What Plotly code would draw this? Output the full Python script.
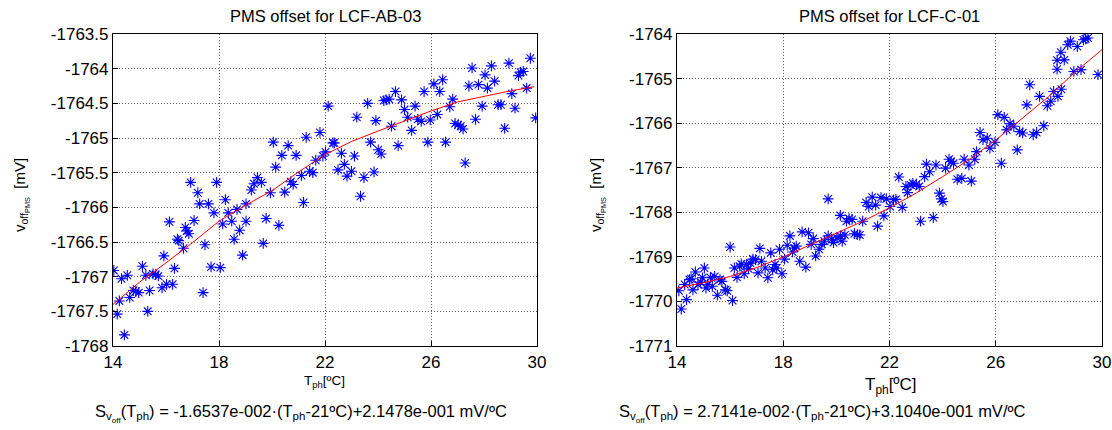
import plotly.graph_objects as go
from plotly.subplots import make_subplots

# --- LCF-AB-03 measurements (T_ph in degC, offset in mV) ---
ab_temp = [
    16.93, 17.20, 17.27, 17.60, 17.81, 17.91, 18.24, 18.35, 18.68, 19.02,
    19.22, 19.32, 19.45, 19.60, 19.94, 20.05, 20.14, 20.37, 20.48, 20.61,
    20.71, 20.80, 20.91, 21.11, 21.19, 21.29, 21.42, 21.54, 21.65, 21.81,
    21.92, 22.02, 22.12, 22.30, 22.35, 22.49, 22.62, 22.73, 22.83, 23.00,
    23.11, 23.20, 23.34, 23.47, 23.61, 23.72, 23.85, 23.92, 24.01, 24.12,
    24.22, 24.31, 24.42, 24.51, 24.66, 24.76, 24.89, 25.00, 25.12, 25.27,
    25.40, 25.50, 25.63, 25.74, 25.88, 25.97, 26.11, 26.24, 26.33, 26.44,
    26.55, 26.71, 26.82, 26.91, 27.02, 27.12, 27.21, 27.29, 27.43, 27.55,
    27.68, 27.79, 27.93, 28.04, 28.13, 28.28, 28.40, 28.53, 28.64, 28.78,
    28.94, 29.05, 29.17, 29.30, 29.38, 29.48, 29.61, 29.75, 29.95,
    14.03, 14.24, 14.32, 14.16, 14.43, 14.54, 14.63, 14.77, 14.86, 14.97,
    15.11, 15.24, 15.38, 15.51, 15.61, 15.71, 15.31, 15.92, 15.85, 16.02,
    16.13, 16.25, 16.32, 16.43, 16.48, 16.66, 16.73, 16.79, 16.86, 17.06,
    17.47, 17.40, 17.70, 18.05, 18.14, 18.48, 18.57, 18.78, 18.89, 19.02,
    19.67, 19.78, 20.26,
]
ab_offset = [
    -1765.64, -1765.79, -1765.95, -1765.95, -1766.08, -1765.64, -1765.89, -1766.08, -1766.03, -1765.95,
    -1765.75, -1765.66, -1765.57, -1765.64, -1765.79, -1765.06, -1765.42, -1765.25, -1765.78, -1765.11,
    -1765.63, -1765.67, -1765.25, -1765.54, -1765.93, -1764.99, -1765.48, -1765.50, -1765.32, -1764.92,
    -1765.26, -1765.20, -1764.54, -1765.07, -1765.07, -1765.46, -1765.22, -1765.38, -1765.55, -1765.48,
    -1765.26, -1764.70, -1765.84, -1765.57, -1764.50, -1765.06, -1765.49, -1764.75, -1765.17, -1765.23,
    -1764.46, -1764.45, -1764.44, -1764.83, -1764.33, -1765.11, -1764.45, -1764.59, -1764.70, -1764.89,
    -1764.54, -1764.73, -1764.76, -1764.33, -1765.06, -1764.74, -1764.22, -1764.66, -1764.33, -1764.16,
    -1765.06, -1764.55, -1764.44, -1764.79, -1764.81, -1764.83, -1764.87, -1765.36, -1764.25, -1763.99,
    -1764.73, -1764.23, -1764.54, -1764.09, -1764.28, -1763.96, -1764.18, -1764.52, -1764.52, -1764.86,
    -1763.92, -1764.36, -1764.57, -1764.10, -1764.05, -1764.04, -1764.28, -1763.85, -1764.71,
    -1766.91, -1767.35, -1767.03, -1767.54, -1767.84, -1766.98, -1767.30, -1767.20, -1767.21, -1767.23,
    -1766.85, -1766.98, -1767.20, -1766.96, -1766.97, -1766.99, -1767.50, -1766.70, -1767.16, -1767.11,
    -1766.21, -1767.11, -1766.88, -1766.46, -1766.48, -1766.59, -1766.29, -1766.34, -1766.38, -1766.19,
    -1766.54, -1767.23, -1766.86, -1766.87, -1766.24, -1766.20, -1766.46, -1766.33, -1766.69, -1766.20,
    -1766.52, -1766.16, -1766.26,
]
ab_fit_temp = [14, 15, 16, 17, 18, 19, 20, 21, 22, 23, 24, 25, 26, 27, 28, 29, 29.9]
ab_fit = [
    -1767.40, -1767.08, -1766.80, -1766.51, -1766.20, -1765.97, -1765.76, -1765.49, -1765.24,
    -1765.05, -1764.90, -1764.75, -1764.61, -1764.48, -1764.40, -1764.32, -1764.26,
]

# --- LCF-C-01 measurements ---
c_temp = [
    19.69, 21.12, 21.22, 21.35, 21.48, 21.68, 21.88, 22.02, 22.15, 22.24,
    22.35, 22.48, 22.62, 22.68, 22.81, 22.88, 23.01, 23.12, 23.32, 23.39,
    23.51, 23.75, 23.88, 23.95, 24.01, 24.11, 24.24, 24.32, 24.41, 24.55,
    24.72, 24.81, 24.99, 25.08, 25.21, 25.28, 25.41, 25.52, 25.68, 25.78,
    25.97, 26.08, 26.21, 26.32, 26.41, 26.54, 26.68, 26.81, 26.90, 27.01,
    27.17, 27.28, 27.41, 27.54, 27.65, 27.81, 27.94, 28.07, 28.18, 28.34,
    28.47, 28.31, 28.31, 28.45, 28.58, 28.71, 28.81, 28.94, 29.07, 29.21,
    29.30, 29.38, 29.47, 29.85,
    14.07, 14.16, 14.29, 14.36, 14.47, 14.53, 14.60, 14.69, 14.79, 14.89,
    14.96, 15.03, 15.09, 15.16, 15.26, 15.33, 15.42, 15.52, 15.62, 15.69,
    15.82, 15.89, 16.00, 16.09, 16.16, 16.26, 16.36, 16.42, 16.53, 16.62,
    16.69, 16.76, 16.86, 16.96, 17.05, 17.12, 17.18, 17.32, 17.42, 17.53,
    17.60, 17.69, 17.75, 17.86, 17.95, 18.05, 18.15, 18.25, 18.35, 18.42,
    18.49, 18.62, 18.71, 18.85, 18.95, 19.05, 19.13, 19.22, 19.35, 19.45,
    19.55, 19.69, 19.82, 19.89, 20.02, 20.15, 20.22, 20.32, 20.15, 20.38,
    20.48, 20.59, 20.68, 20.79, 20.88, 20.99, 21.55, 21.79, 23.17, 23.65,
]
c_offset = [
    -1767.70, -1767.78, -1767.87, -1767.66, -1767.84, -1767.67, -1767.70, -1767.87, -1767.72, -1767.71,
    -1767.21, -1767.89, -1767.42, -1767.56, -1767.39, -1767.35, -1767.37, -1767.42, -1767.20, -1766.92,
    -1767.09, -1766.94, -1767.57, -1767.70, -1767.76, -1767.01, -1766.81, -1766.86, -1766.90, -1767.26,
    -1767.24, -1766.81, -1766.94, -1767.30, -1766.81, -1766.64, -1766.21, -1766.37, -1766.34, -1766.56,
    -1766.43, -1765.81, -1766.90, -1765.87, -1766.15, -1766.01, -1766.07, -1766.60, -1766.19, -1766.22,
    -1765.59, -1765.14, -1766.26, -1766.21, -1765.40, -1766.06, -1765.61, -1765.51, -1765.29, -1765.40,
    -1765.24, -1764.79, -1764.59, -1764.41, -1764.58, -1764.24, -1764.16, -1764.84, -1764.28, -1764.80,
    -1764.13, -1764.11, -1764.09, -1764.91,
    -1769.76, -1770.17, -1769.62, -1769.96, -1769.51, -1769.49, -1769.74, -1769.34, -1769.62, -1769.57,
    -1769.47, -1769.25, -1769.70, -1769.62, -1769.46, -1769.66, -1769.44, -1769.86, -1769.51, -1769.55,
    -1769.74, -1769.76, -1768.78, -1769.98, -1769.25, -1769.46, -1769.21, -1769.16, -1769.38, -1769.17,
    -1769.27, -1769.14, -1769.05, -1769.06, -1769.36, -1768.81, -1769.10, -1769.25, -1769.47, -1768.91,
    -1769.29, -1769.17, -1769.25, -1768.83, -1769.38, -1769.05, -1768.74, -1768.53, -1768.89, -1768.80,
    -1768.76, -1769.10, -1768.44, -1769.23, -1768.46, -1768.72, -1768.59, -1768.98, -1768.83, -1768.72,
    -1768.65, -1768.53, -1768.61, -1768.68, -1768.57, -1768.53, -1768.65, -1768.51, -1768.07, -1768.20,
    -1768.14, -1768.16, -1768.48, -1768.50, -1768.51, -1768.20, -1768.31, -1768.08, -1768.20, -1768.12,
]
c_fit_temp = [14, 15, 16, 17, 18, 19, 20, 21, 22, 23, 24, 25, 26, 27, 28, 29, 30]
c_fit = [
    -1769.70, -1769.58, -1769.44, -1769.24, -1769.00, -1768.73, -1768.47, -1768.20, -1767.90,
    -1767.57, -1767.20, -1766.82, -1766.38, -1765.90, -1765.40, -1764.85, -1764.35,
]

# --- tick labels ---
x_ticks = [14, 18, 22, 26, 30]
ab_yticks = [-1768, -1767.5, -1767, -1766.5, -1766, -1765.5, -1765, -1764.5, -1764, -1763.5]
ab_ytext = ["-1768", "-1767.5", "-1767", "-1766.5", "-1766", "-1765.5", "-1765", "-1764.5", "-1764", "-1763.5"]
c_yticks = [-1771, -1770, -1769, -1768, -1767, -1766, -1765, -1764]
c_ytext = ["-1771", "-1770", "-1769", "-1768", "-1767", "-1766", "-1765", "-1764"]

titles = ["PMS offset for LCF-AB-03", "PMS offset for LCF-C-01"]
equations = [
    "S<sub>v<sub>off</sub></sub>(T<sub>ph</sub>) = -1.6537e-002·(T<sub>ph</sub>-21ºC)+2.1478e-001 mV/ºC",
    "S<sub>v<sub>off</sub></sub>(T<sub>ph</sub>) = 2.7141e-002·(T<sub>ph</sub>-21ºC)+3.1040e-001 mV/ºC",
]

W, H = 1112, 430
FONT = "Liberation Sans, Arial, sans-serif"


def px(x):
    return x / W


def py(y):
    return 1 - y / H


fig = make_subplots(rows=1, cols=2)

for col, (tx, vy, ftx, fvy) in enumerate(
    [(ab_temp, ab_offset, ab_fit_temp, ab_fit), (c_temp, c_offset, c_fit_temp, c_fit)], start=1
):
    fig.add_trace(go.Scatter(
        x=tx, y=vy, mode="markers",
        marker=dict(symbol="asterisk-open", size=9, color="#0000ff",
                    line=dict(color="#0000ff", width=1.1)),
        showlegend=False), row=1, col=col)
    fig.add_trace(go.Scatter(
        x=ftx, y=fvy, mode="lines", line=dict(color="#ff0000", width=1),
        showlegend=False), row=1, col=col)

axis_common = dict(
    showline=True, linecolor="black", linewidth=1.2, mirror=True,
    ticks="inside", ticklen=5, tickcolor="black",
    showgrid=True, gridcolor="#606060", griddash="1px,2px", gridwidth=1,
    zeroline=False, automargin=False,
    tickfont=dict(family=FONT, size=17, color="black"),
)

fig.update_xaxes(axis_common)
fig.update_yaxes(axis_common)

fig.update_layout(
    width=W, height=H,
    margin=dict(l=0, r=0, t=0, b=0),
    paper_bgcolor="white", plot_bgcolor="white",
    font=dict(family=FONT, color="black"),
    xaxis=dict(domain=[px(113), px(537)], range=[14, 30], tickvals=x_ticks),
    xaxis2=dict(domain=[px(677), px(1102)], range=[14, 30], tickvals=x_ticks),
    yaxis=dict(domain=[py(346), py(34)], range=[-1768, -1763.5],
               tickvals=ab_yticks, ticktext=ab_ytext),
    yaxis2=dict(domain=[py(346), py(34)], range=[-1771, -1764],
                tickvals=c_yticks, ticktext=c_ytext),
)

ann = []
# titles
for cx, t in zip([325, 889.5], titles):
    ann.append(dict(text=t, x=px(cx), y=py(16), xref="paper", yref="paper",
                    xanchor="center", yanchor="middle", showarrow=False,
                    font=dict(size=16.5)))
# x-axis titles
ann.append(dict(text="T<sub>ph</sub>[ºC]", x=px(324), y=py(381), xref="paper", yref="paper",
                xanchor="center", yanchor="middle", showarrow=False, font=dict(size=13.5)))
ann.append(dict(text="T<sub>ph</sub>[ºC]", x=px(891), y=py(386), xref="paper", yref="paper",
                xanchor="center", yanchor="middle", showarrow=False, font=dict(size=17)))
# y-axis titles
ylab = "v<sub>off<sub>PMS</sub></sub>  [mV]"
for lx in [22, 598]:
    ann.append(dict(text=ylab, x=px(lx), y=py(195), xref="paper", yref="paper",
                    xanchor="center", yanchor="middle", textangle=-90, showarrow=False,
                    font=dict(size=15)))
# sensitivity equations
for lx, eq in zip([93, 617], equations):
    ann.append(dict(text=eq, x=px(lx), y=py(413), xref="paper", yref="paper",
                    xanchor="left", yanchor="middle", showarrow=False, font=dict(size=16.5)))

fig.update_layout(annotations=ann)

# drop the browser's default body margin so the figure sits at the page corner
fig.write_html("out.html", config={"displayModeBar": False},
               post_script="document.body.style.margin = '0px';")
